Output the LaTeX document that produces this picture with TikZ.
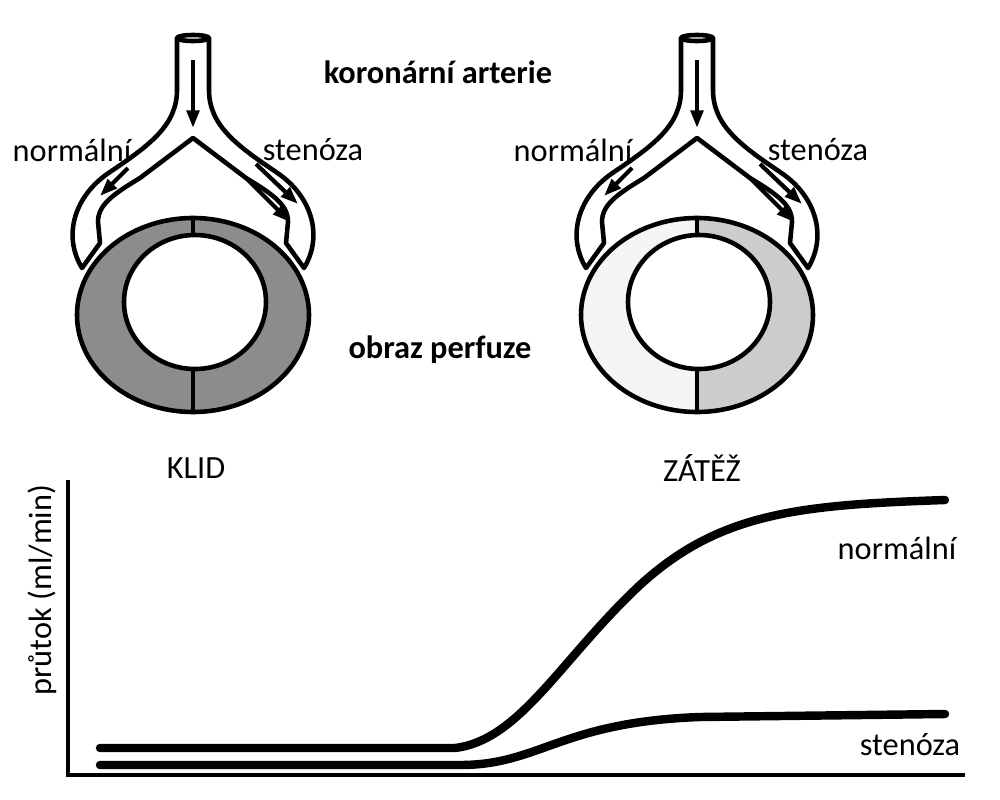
\documentclass[tikz,border=0pt]{standalone}
\usepackage{fontspec}
\setmainfont{Carlito}
\usetikzlibrary{arrows.meta}

\tikzset{
  wall/.style={line width=1.3pt, line join=round},
  flow/.style={line width=1.2pt, -{Triangle[length=5pt,width=3.5pt]}},
  curve/.style={line width=2.4pt, line cap=round},
  lbl/.style={font=\fontsize{9.2}{11}\selectfont},
  title/.style={font=\fontsize{9.2}{11}\selectfont\bfseries}
}

\begin{document}
\begin{tikzpicture}[x=0.01cm, y=-0.01cm]
\useasboundingbox (0,0) rectangle (1000,800);

% two panels: offset / left half / right half of the ring
\foreach \dx/\lc/\rc in {0/black!45/black!45, 504/black!4/black!20}{
\begin{scope}[xshift=\dx*0.01cm]
    % vessel
    \draw[wall, fill=white]
        (177,38) -- (177,90) .. controls (177,125) and (150,145) .. (110,172)
        .. controls (75,195) and (62,235) .. (82,268)
        -- (100,243) -- (98,222) .. controls (98,205) and (112,195) .. (140,178)
        -- (193,138) -- (246,178) .. controls (274,195) and (288,205) .. (288,222)
        -- (286,243) -- (304,268) .. controls (324,235) and (311,195) .. (276,172)
        .. controls (236,145) and (209,125) .. (209,90) -- (209,38);
    \draw[wall, fill=white] (193,38) ellipse (16 and 3);
    % ring
    \begin{scope}
        \clip (0,200) rectangle (193,420);
        \fill[\lc] (193,315) ellipse (116 and 97);
    \end{scope}
    \begin{scope}
        \clip (193,200) rectangle (400,420);
        \fill[\rc] (193,315) ellipse (116 and 97);
    \end{scope}
    \draw[wall] (193,315) ellipse (116 and 97);
    \draw[wall, fill=white] (195,302) ellipse (71 and 67);
    \draw[wall] (193,218) -- (193,236);
    \draw[wall] (193,368) -- (193,412);
    % flow arrows
    \draw[flow] (193,60) -- (193,128);
    \draw[flow] (128,168) -- (100,196);
    \draw[flow] (256,164) -- (298,204);
    \draw[flow] (246,178) -- (290,222);
\end{scope}
}

% labels
\node[title] (art) at (438,72) {koronární arterie};
\node[title] (perf) at (440,350) {obraz perfuze};
\node[lbl] (nl1) at (72,150) {normální};
\node[lbl] (st1) at (313,150) {stenóza};
\node[lbl] (nl2) at (573,150) {normální};
\node[lbl] (st2) at (818,150) {stenóza};
\node[lbl] (klid) at (196,468) {KLID};
\node[lbl] (zatez) at (702,468) {ZÁTĚŽ};

% graph
\coordinate (o) at (68,775);
\coordinate (ytop) at (68,480);
\coordinate (xend) at (965,775);
\draw[line width=1.1pt] (ytop) -- (o) -- (xend);
\node[lbl, rotate=90] (ylab) at (42,590) {průtok (ml/min)};

\draw[curve] (100,748) -- (455,748) .. controls (520,740) and (560,660) .. (640,585)
    .. controls (720,512) and (800,505) .. (945,500);
\draw[curve] (100,765) -- (460,765) .. controls (540,765) and (560,722) .. (700,717)
    -- (945,714);
\node[lbl] (nlg) at (897,548) {normální};
\node[lbl] (stg) at (910,745) {stenóza};
\end{tikzpicture}
\end{document}
